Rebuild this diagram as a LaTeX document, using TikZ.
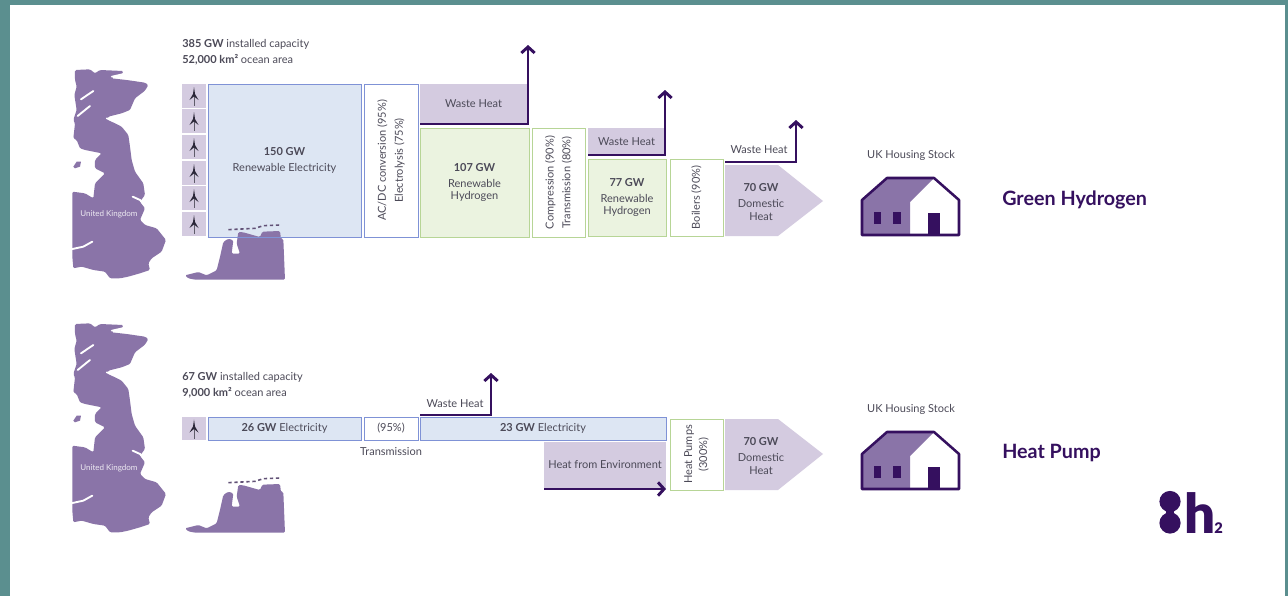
\documentclass[tikz,border=0pt]{standalone}
\usepackage{fontspec}
\setmainfont{Lato}
\newfontfamily\logofont{Lato Black}
\usepackage{tikz}
\usetikzlibrary{arrows.meta}

\definecolor{frameteal}{HTML}{5B8F8F}
\definecolor{mapviolet}{HTML}{8A74A8}
\definecolor{lightviolet}{HTML}{D4CBE0}
\definecolor{darkviolet}{HTML}{35105F}
\definecolor{elecfill}{HTML}{DDE6F3}
\definecolor{elecline}{HTML}{7F92D6}
\definecolor{hydrofill}{HTML}{EBF3E0}
\definecolor{hydroline}{HTML}{B7D596}
\definecolor{labelgrey}{HTML}{4C4A58}
\definecolor{labeldark}{HTML}{2A2638}

\tikzset{
	size/.style 2 args={minimum width=#1*0.75pt, minimum height=#2*0.75pt},
	word/.style={font=\fontsize{8.25}{9.2}\selectfont, text=labelgrey, align=center, inner sep=0pt},
	box/.style={word, draw, line width=0.75pt},
	elecbox/.style={box, draw=elecline, fill=elecfill},
	hydrobox/.style={box, draw=hydroline, fill=hydrofill},
	lossbox/.style={word, fill=lightviolet},
	stagebox/.style={box, draw=#1, fill=white},
	heatline/.style={draw=darkviolet, line width=2.2pt, -{Straight Barb[length=4.5pt, width=10pt]}},
	capline/.style={word, anchor=west, align=left},
	title/.style={anchor=west, inner sep=0pt, font=\fontsize{14.8}{17}\selectfont\bfseries, text=darkviolet},
	turbine/.pic={
		\draw[labeldark!75, line width=0.7pt] (0,-2) -- (0,10);
		\fill[labeldark] (0,-9) -- (1,-2) -- (4.5,4) -- (0,0.5) -- (-4.5,4) -- (-1,-2) -- cycle;
	},
	ukmap/.pic={
		\begin{scope}[scale=0.3333]
			\fill[mapviolet, rounded corners=1pt] (30,30) -- (75,28) -- (90,40) -- (105,30) -- (175,33) -- (170,45) -- (145,47) -- (140,55) -- (185,60) -- (240,68) -- (250,75) -- (240,92) -- (210,115) -- (195,150) -- (170,160) -- (130,170) -- (125,178) -- (150,190) -- (170,200) -- (190,225) -- (195,260) -- (200,300) -- (210,335) -- (235,370) -- (240,405) -- (225,425) -- (240,445) -- (225,480) -- (240,495) -- (275,505) -- (303,540) -- (290,575) -- (260,595) -- (250,610) -- (255,630) -- (225,640) -- (190,650) -- (165,655) -- (135,655) -- (120,635) -- (85,630) -- (50,620) -- (25,625) -- (22,590) -- (22,395) -- (60,400) -- (85,415) -- (90,370) -- (120,340) -- (90,325) -- (90,300) -- (110,280) -- (60,270) -- (45,265) -- (35,240) -- (25,235) -- (30,190) -- (25,180) -- (35,150) -- (28,105) -- (35,80) -- (30,60) -- cycle;
			\fill[mapviolet] (25,320) -- (35,305) -- (48,305) -- (45,320) -- (30,325) -- cycle;
			\draw[white, line width=1.2pt, line cap=round] (125,175) -- (150,185) -- (180,180);
			\draw[white, line width=1.2pt, line cap=round] (140,50) -- (175,42);
			\draw[white, line width=1.4pt, line cap=round] (48,118) -- (85,93);
			\draw[white, line width=1.4pt, line cap=round] (38,168) -- (75,138);
			\draw[white, line width=1.4pt, line cap=round] (203,410) -- (225,420) -- (240,438);
			\draw[white, line width=1.4pt, line cap=round] (18,568) -- (55,560) -- (82,545);
			\node[text=white!85!mapviolet, font=\fontsize{6}{7}\selectfont, inner sep=0pt] (ukname) at (132,463){United Kingdom};
		\end{scope}
	},
	eumap/.pic={
		\begin{scope}[scale=0.3333]
			\fill[mapviolet, rounded corners=1pt] (30,181) -- (70,171) -- (95,181) -- (125,166) -- (135,126) -- (145,81) -- (160,71) -- (175,76) -- (170,116) -- (195,116) -- (185,86) -- (190,51) -- (205,52) -- (240,62) -- (255,66) -- (262,50) -- (315,48) -- (318,72) -- (325,72) -- (330,194) -- (60,194) -- (40,190) -- cycle;
			\draw[mapviolet!70!black, line width=1.2pt, dash pattern=on 2.5pt off 2pt] (160,44) -- (200,42) -- (240,40) -- (265,32) -- (315,30);
		\end{scope}
	},
	house/.pic={
		\fill[mapviolet] (-49,34) -- (-49,-1) -- (-24,-23) -- (23,-23) -- (-1,1) -- (-1,34) -- cycle;
		\draw[darkviolet, line width=1.9pt, line join=round] (-49,34) -- (-49,-1) -- (-24,-23) -- (23,-23) -- (48,-1) -- (48,34) -- cycle;
		\fill[darkviolet] (-37,11) rectangle (-30,23);
		\fill[darkviolet] (-18,11) rectangle (-10,23);
		\fill[darkviolet] (17,12) rectangle (29,34);
	}
}

\begin{document}
\begin{tikzpicture}[x=0.75pt, y=-0.75pt]
	\fill[frameteal] (0,0) rectangle (1288,596);
	\fill[white] (10,5) rectangle (1285,596);

	% green hydrogen row
	\pic at (65,60) {ukmap};
	\node[capline] (capacityA) at (182,44){\textbf{385 GW} installed capacity};
	\node[capline] (areaA) at (182,60){\textbf{52,000 km²} ocean area};

	\foreach \row in {96,121,147,173,198,224}{
		\node[lossbox, size={24}{24.5}] at (194,\row){};
		\pic at (194,\row) {turbine};
	}

	\node[elecbox, size={153}{153}] (renewable) at (284.5,160.5){\textbf{150 GW}\\[3pt]Renewable Electricity};
	\pic at (175,215) {eumap};
	\path[draw=elecline, line width=0.75pt] (renewable.south west) -- (renewable.south east);
	\node[stagebox=elecline, size={153}{54}, rotate=90] (acdc) at (391,160.5){AC/DC conversion (95\%)\\[3.5pt]Electrolysis (75\%)};
	\node[lossbox, size={108}{40}] (wasteA) at (473.5,104){Waste Heat};
	\node[hydrobox, size={109}{109}] (hydrogenA) at (474.5,182.5){\textbf{107 GW}\\[3pt]Renewable\\Hydrogen};
	\node[stagebox=hydroline, size={109}{53}, rotate=90] (compress) at (558.5,182.5){Compression (90\%)\\[3.5pt]Transmission (80\%)};
	\node[lossbox, size={77}{27}] (wasteB) at (626.5,141.5){Waste Heat};
	\node[hydrobox, size={78}{77}] (hydrogenB) at (627,197.5){\textbf{77 GW}\\[3pt]Renewable\\Hydrogen};
	\node[stagebox=hydroline, size={77}{53}, rotate=90] (boilers) at (696.5,197.5){Boilers (90\%)};
	\fill[lightviolet] (725,165) -- (778,165) -- (823,201) -- (778,236) -- (725,236) -- cycle;
	\node[word] (heatA) at (761,202){\textbf{70 GW}\\[3pt]Domestic\\Heat};
	\node[word] (wasteC) at (759,150){Waste Heat};

	\coordinate (ventA) at (420,124);
	\coordinate (ventAtop) at (528,45);
	\coordinate (ventB) at (588,155);
	\coordinate (ventBtop) at (665,90);
	\coordinate (ventC) at (725,162);
	\coordinate (ventCtop) at (796,120);
	\path[heatline] (ventA) -| (ventAtop);
	\path[heatline] (ventB) -| (ventBtop);
	\path[heatline] (ventC) -| (ventCtop);

	\node[word] (stockA) at (911,155){UK Housing Stock};
	\pic at (911,201) {house};
	\node[title] (titleA) at (1002,200){Green Hydrogen};

	% heat pump row
	\pic at (65,314) {ukmap};
	\pic at (175,468) {eumap};
	\node[capline] (capacityB) at (182,377){\textbf{67 GW} installed capacity};
	\node[capline] (areaB) at (182,393){\textbf{9,000 km²} ocean area};

	\node[lossbox, size={24}{23}] (cell) at (194,428.5){};
	\pic at (194,428.5) {turbine};
	\node[elecbox, size={153}{23}] (elecA) at (284.5,428.5){\textbf{26 GW} Electricity};
	\node[stagebox=elecline, size={54}{23}] (trans) at (391,428.5){(95\%)};
	\node[word] (transname) at (391,452){Transmission};
	\node[elecbox, size={246}{23}] (elecB) at (543,428.5){\textbf{23 GW} Electricity};
	\node[lossbox, size={122}{46}] (ambient) at (605,465){Heat from Environment};
	\node[stagebox=hydroline, size={71}{53}, rotate=90] (pumps) at (696.5,454.5){Heat Pumps\\[2pt](300\%)};
	\fill[lightviolet] (725,419) -- (778,419) -- (823,454) -- (778,490) -- (725,490) -- cycle;
	\node[word] (heatB) at (761,456){\textbf{70 GW}\\[3pt]Domestic\\Heat};
	\node[word] (wasteD) at (455,404){Waste Heat};

	\coordinate (ventD) at (420,415);
	\coordinate (ventDtop) at (491,373);
	\coordinate (envstart) at (544,489);
	\coordinate (envend) at (666,489);
	\path[heatline] (ventD) -| (ventDtop);
	\path[heatline] (envstart) -- (envend);

	\node[word] (stockB) at (911,409){UK Housing Stock};
	\pic at (911,455) {house};
	\node[title] (titleB) at (1002,453){Heat Pump};

	% logo
	\fill[darkviolet] (1170,501.5) circle (10.6) (1170,523) circle (10.6);
	\fill[darkviolet] (1166,505) rectangle (1174,520);
	\node[anchor=base west, inner sep=0pt, text=darkviolet, font=\fontsize{41}{41}\logofont] (logoh) at (1184,533){h};
	\node[anchor=base west, inner sep=0pt, text=darkviolet, font=\fontsize{11}{11}\logofont] (logotwo) at (1214,533){2};
\end{tikzpicture}
\end{document}
